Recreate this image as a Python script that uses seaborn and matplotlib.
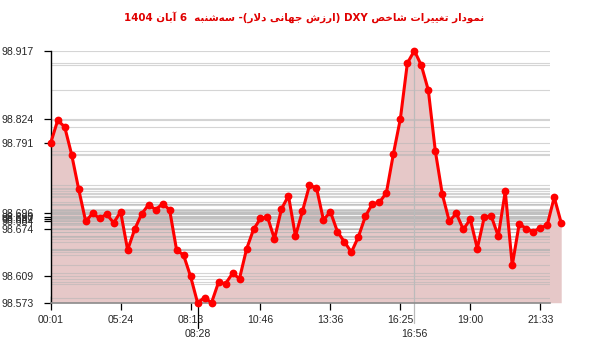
import matplotlib
matplotlib.use("Agg")
import matplotlib.pyplot as plt
import matplotlib.transforms as mtransforms
import seaborn as sns
import numpy as np
import pandas as pd

# ---------------- data ----------------
title_text = "نمودار تغییرات شاخص DXY (ارزش جهانی دلار)- سه\u200cشنبه  6 آبان 1404"

values = [98.791, 98.822, 98.813, 98.775, 98.728, 98.684, 98.695, 98.688, 98.694, 98.682,
          98.697, 98.645, 98.673, 98.694, 98.707, 98.700, 98.708, 98.700, 98.645, 98.638,
          98.609, 98.573, 98.580, 98.573, 98.601, 98.599, 98.613, 98.606, 98.646, 98.673,
          98.688, 98.690, 98.660, 98.701, 98.719, 98.664, 98.698, 98.733, 98.730, 98.686,
          98.697, 98.670, 98.656, 98.642, 98.663, 98.691, 98.708, 98.710, 98.723, 98.776,
          98.824, 98.900, 98.917, 98.897, 98.863, 98.780, 98.721, 98.684, 98.695, 98.673,
          98.687, 98.647, 98.690, 98.691, 98.664, 98.725, 98.624, 98.681, 98.674, 98.670,
          98.675, 98.679, 98.717, 98.682]

xtick_labels = ["00:01", "05:24", "08:13", "10:46", "13:36", "16:25", "19:00", "21:33"]
min_label = "08:28"
max_label = "16:56"
ytick_values = [98.573, 98.609, 98.674, 98.684, 98.687, 98.690, 98.696, 98.791, 98.824, 98.917]

# ---------------- minimal Persian shaping ----------------
FORMS = {
    '\u0627': ('\uFE8D', '\uFE8E', None, None),
    '\u0622': ('\uFE81', '\uFE82', None, None),
    '\u0628': ('\uFE8F', '\uFE90', '\uFE91', '\uFE92'),
    '\u062A': ('\uFE95', '\uFE96', '\uFE97', '\uFE98'),
    '\u062C': ('\uFE9D', '\uFE9E', '\uFE9F', '\uFEA0'),
    '\u062E': ('\uFEA5', '\uFEA6', '\uFEA7', '\uFEA8'),
    '\u062F': ('\uFEA9', '\uFEAA', None, None),
    '\u0631': ('\uFEAD', '\uFEAE', None, None),
    '\u0632': ('\uFEAF', '\uFEB0', None, None),
    '\u0633': ('\uFEB1', '\uFEB2', '\uFEB3', '\uFEB4'),
    '\u0634': ('\uFEB5', '\uFEB6', '\uFEB7', '\uFEB8'),
    '\u0635': ('\uFEB9', '\uFEBA', '\uFEBB', '\uFEBC'),
    '\u063A': ('\uFECD', '\uFECE', '\uFECF', '\uFED0'),
    '\u0644': ('\uFEDD', '\uFEDE', '\uFEDF', '\uFEE0'),
    '\u0645': ('\uFEE1', '\uFEE2', '\uFEE3', '\uFEE4'),
    '\u0646': ('\uFEE5', '\uFEE6', '\uFEE7', '\uFEE8'),
    '\u0647': ('\uFEE9', '\uFEEA', '\uFEEB', '\uFEEC'),
    '\u0648': ('\uFEED', '\uFEEE', None, None),
    '\u06CC': ('\uFBFC', '\uFBFD', '\uFBFE', '\uFBFF'),
}


def _dual(c):
    return c in FORMS and FORMS[c][2] is not None


def shape(word):
    chars = list(word)
    out = []
    i = 0
    while i < len(chars):
        c = chars[i]
        if c not in FORMS:
            out.append(c)
            i += 1
            continue
        prev = chars[i - 1] if i > 0 else None
        jp = prev is not None and _dual(prev)
        if c == '\u0644' and i + 1 < len(chars) and chars[i + 1] == '\u0627':
            out.append('\uFEFC' if jp else '\uFEFB')
            i += 2
            continue
        nxt = chars[i + 1] if i + 1 < len(chars) else None
        jn = _dual(c) and nxt is not None and nxt in FORMS
        iso, fin, ini, med = FORMS[c]
        out.append(med if (jp and jn) else fin if jp else ini if jn else iso)
        i += 1
    return ''.join(out)


def visual(text):
    tokens = text.split(' ')
    out = []
    for t in reversed(tokens):
        if any('\u0600' <= ch <= '\u06FF' for ch in t):
            s = shape(t).replace('\u200c', '')
            s = s[::-1].translate(str.maketrans('()', ')('))
            out.append(s)
        else:
            out.append(t)
    return ' '.join(out)


# ---------------- plot ----------------
sns.set_theme(style="white")
plt.rcParams['font.family'] = ['Liberation Sans', 'DejaVu Sans']

df = pd.DataFrame({"idx": np.arange(len(values)), "value": values})
imin = int(np.argmin(values))
imax = int(np.argmax(values))
ymin, ymax = min(values), max(values)

fig = plt.figure(figsize=(6.0, 3.52), dpi=100)
ax = fig.add_axes([0.0845, 0.140, 0.8322, 0.716])

ax.fill_between(df["idx"], df["value"], ymin, color="#e6c8c8", lw=0, zorder=1, clip_on=False)
for v in values:
    ax.axhline(v, color="#b4b4b4", lw=0.8, alpha=0.55, zorder=1.5)

sns.lineplot(data=df, x="idx", y="value", ax=ax, color="#ff0000", lw=2.2,
             marker="o", markersize=5.6, markeredgewidth=0, zorder=4, clip_on=False)

ax.set_xlim(0, 71.4)
ax.set_ylim(ymin, ymax)

# max / min markers
ax.axvline(imax, ymin=-0.08, ymax=1, color="#bbbbbb", lw=0.9, zorder=2, clip_on=False)
ax.axvline(imin, ymin=-0.10, ymax=0, color="black", lw=0.9, zorder=2, clip_on=False)
trans = mtransforms.blended_transform_factory(ax.transData, ax.transAxes)
ax.text(imin, -0.125, min_label, transform=trans, ha="center", va="center", fontsize=7.6)
ax.text(imax, -0.125, max_label, transform=trans, ha="center", va="center", fontsize=7.6)

ax.set_xticks(np.arange(0, 10 * len(xtick_labels), 10))
ax.set_xticklabels(xtick_labels)
ax.set_yticks(ytick_values)
ax.set_yticklabels([f"{v:.3f}" for v in ytick_values])
ax.tick_params(axis="x", direction="inout", length=10, width=0.9, color="black",
               labelsize=7.6, pad=4, bottom=True)
ax.tick_params(axis="y", direction="out", length=5, width=0.9, color="black",
               labelsize=7.6, pad=7, left=True)

ax.set_xlabel("")
ax.set_ylabel("")
for s in ["top", "right"]:
    ax.spines[s].set_visible(False)
ax.spines["left"].set_color("black")
ax.spines["left"].set_linewidth(1.0)
ax.spines["bottom"].set_color("#8c8c8c")
ax.spines["bottom"].set_linewidth(1.2)

fig.text(0.507, 0.952, visual(title_text), ha="center", va="center", color="#e00000",
         fontsize=7.4, fontweight="bold", family=["DejaVu Sans"])

fig.savefig("out.png", dpi=100)
